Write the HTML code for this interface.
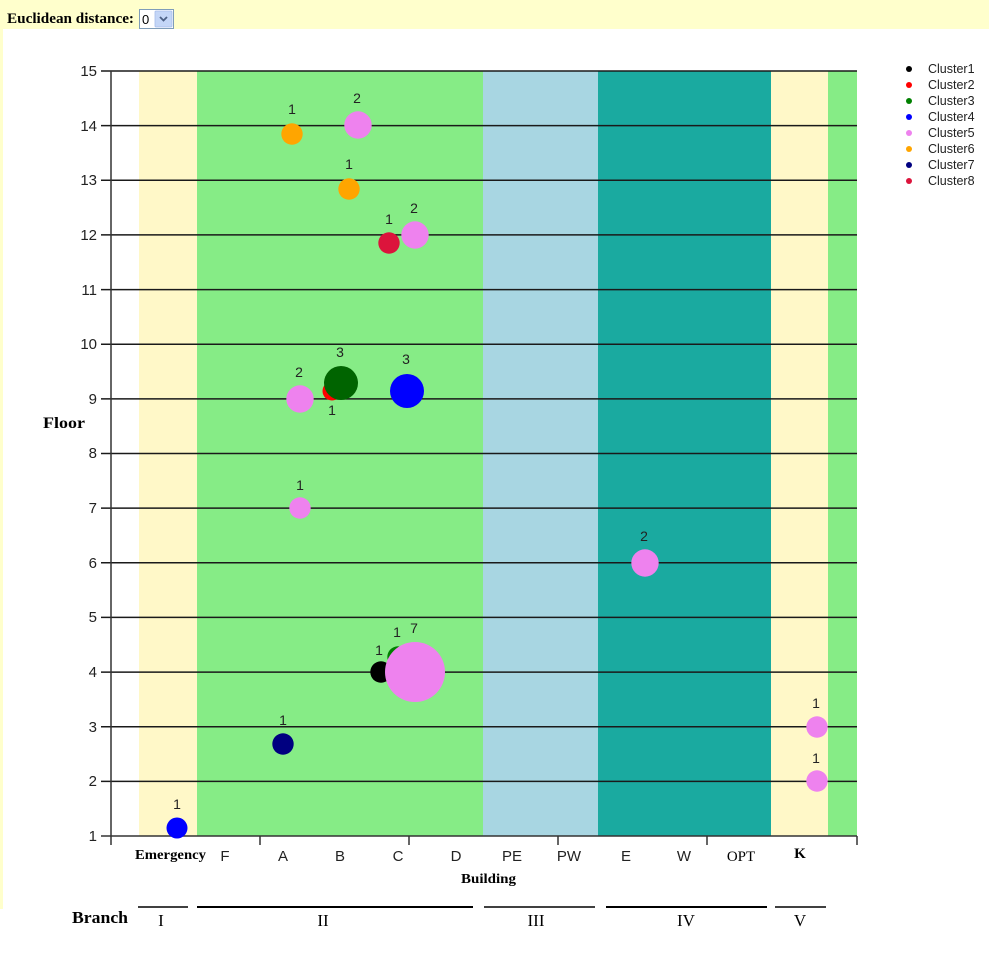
<!DOCTYPE html>
<html><head><meta charset="utf-8"><style>
html,body{margin:0;padding:0;background:#fff;}
svg{display:block;}
</style></head><body>
<svg width="989" height="954" viewBox="0 0 989 954" xmlns="http://www.w3.org/2000/svg">
<!-- page background -->
<rect x="0" y="0" width="989" height="954" fill="#fff"/>
<rect x="0" y="0" width="989" height="29" fill="#FFFFCC"/>
<rect x="0" y="29" width="3" height="880" fill="#FFFFCC"/>
<!-- header -->
<text x="7" y="23" font-family="Liberation Serif, serif" font-weight="bold" font-size="15" fill="#000" textLength="127" lengthAdjust="spacingAndGlyphs">Euclidean distance:</text>
<rect x="139.5" y="9.5" width="34" height="19" fill="#fff" stroke="#7F9DB9"/>
<text x="142" y="24" font-family="Liberation Sans, sans-serif" font-size="13" fill="#000">0</text>
<rect x="155" y="11" width="17" height="16" fill="#C4D6F7" stroke="#A6BDEB" stroke-width="0.8" rx="1"/>
<path d="M160 17 L163.5 20.5 L167 17" stroke="#4D6185" stroke-width="1.8" fill="none"/>

<!-- bands -->
<rect x="139" y="71" width="58" height="765" fill="#FFF8C8"/>
<rect x="197" y="71" width="286" height="765" fill="#86EC86"/>
<rect x="483" y="71" width="115" height="765" fill="#A8D6E2"/>
<rect x="598" y="71" width="173" height="765" fill="#1AAAA0"/>
<rect x="771" y="71" width="57" height="765" fill="#FFF8C8"/>
<rect x="828" y="71" width="29" height="765" fill="#86EC86"/>

<!-- gridlines -->
<g stroke="#1a1a1a" stroke-width="1.5">
<line x1="101" y1="71" x2="857" y2="71"/>
<line x1="101" y1="125.6" x2="857" y2="125.6"/>
<line x1="101" y1="180.3" x2="857" y2="180.3"/>
<line x1="101" y1="234.9" x2="857" y2="234.9"/>
<line x1="101" y1="289.6" x2="857" y2="289.6"/>
<line x1="101" y1="344.2" x2="857" y2="344.2"/>
<line x1="101" y1="398.9" x2="857" y2="398.9"/>
<line x1="101" y1="453.5" x2="857" y2="453.5"/>
<line x1="101" y1="508.1" x2="857" y2="508.1"/>
<line x1="101" y1="562.8" x2="857" y2="562.8"/>
<line x1="101" y1="617.4" x2="857" y2="617.4"/>
<line x1="101" y1="672.1" x2="857" y2="672.1"/>
<line x1="101" y1="726.7" x2="857" y2="726.7"/>
<line x1="101" y1="781.4" x2="857" y2="781.4"/>
</g>
<g stroke="#333" stroke-width="1.5">
<line x1="101" y1="836" x2="857" y2="836"/>
<line x1="111" y1="71" x2="111" y2="845"/>
<line x1="260" y1="836" x2="260" y2="845"/>
<line x1="409" y1="836" x2="409" y2="845"/>
<line x1="558" y1="836" x2="558" y2="845"/>
<line x1="707" y1="836" x2="707" y2="845"/>
<line x1="857" y1="836" x2="857" y2="845"/>
</g>

<!-- y tick labels -->
<g font-family="Liberation Sans, sans-serif" font-size="15" fill="#222" text-anchor="end">
<text x="97" y="76">15</text>
<text x="97" y="131">14</text>
<text x="97" y="185">13</text>
<text x="97" y="240">12</text>
<text x="97" y="295">11</text>
<text x="97" y="349">10</text>
<text x="97" y="404">9</text>
<text x="97" y="458">8</text>
<text x="97" y="513">7</text>
<text x="97" y="568">6</text>
<text x="97" y="622">5</text>
<text x="97" y="677">4</text>
<text x="97" y="732">3</text>
<text x="97" y="786">2</text>
<text x="97" y="841">1</text>
</g>

<!-- x labels -->
<text x="135" y="859" font-family="Liberation Serif, serif" font-weight="bold" font-size="14" fill="#000" textLength="71" lengthAdjust="spacingAndGlyphs">Emergency</text>
<g font-family="Liberation Sans, sans-serif" font-size="15" fill="#222" text-anchor="middle">
<text x="225" y="861">F</text>
<text x="283" y="861">A</text>
<text x="340" y="861">B</text>
<text x="398" y="861">C</text>
<text x="456" y="861">D</text>
<text x="512" y="861">PE</text>
<text x="569" y="861">PW</text>
<text x="626" y="861">E</text>
<text x="684" y="861">W</text>
</g>
<text x="741" y="861" font-family="Liberation Serif, serif" font-size="15" fill="#000" text-anchor="middle">OPT</text>
<text x="800" y="858" font-family="Liberation Serif, serif" font-weight="bold" font-size="15" fill="#000" text-anchor="middle">K</text>
<text x="461" y="883" font-family="Liberation Serif, serif" font-weight="bold" font-size="14" fill="#000" textLength="55" lengthAdjust="spacingAndGlyphs">Building</text>
<text x="43" y="428" font-family="Liberation Serif, serif" font-weight="bold" font-size="16" fill="#000" textLength="42" lengthAdjust="spacingAndGlyphs">Floor</text>

<!-- branch -->
<text x="72" y="923" font-family="Liberation Serif, serif" font-weight="bold" font-size="17" fill="#000" textLength="56" lengthAdjust="spacingAndGlyphs">Branch</text>
<g stroke="#000">
<line x1="138" y1="907" x2="188" y2="907" stroke-width="1.5"/>
<line x1="197" y1="907" x2="473" y2="907" stroke-width="2"/>
<line x1="484" y1="907" x2="595" y2="907" stroke-width="1.5"/>
<line x1="606" y1="907" x2="767" y2="907" stroke-width="2"/>
<line x1="775" y1="907" x2="826" y2="907" stroke-width="1.5"/>
</g>
<g font-family="Liberation Serif, serif" font-size="17" fill="#000" text-anchor="middle">
<text x="161" y="926">I</text>
<text x="323" y="926">II</text>
<text x="536" y="926">III</text>
<text x="686" y="926">IV</text>
<text x="800" y="926">V</text>
</g>

<!-- bubbles -->
<circle cx="177" cy="828" r="10.5" fill="#0000FF"/>
<circle cx="292" cy="134" r="10.7" fill="#FFA500"/>
<circle cx="358" cy="125" r="13.7" fill="#EE82EE"/>
<circle cx="349" cy="189" r="10.7" fill="#FFA500"/>
<circle cx="389" cy="243" r="10.7" fill="#DC143C"/>
<circle cx="415" cy="235" r="13.7" fill="#EE82EE"/>
<circle cx="300" cy="399" r="13.7" fill="#EE82EE"/>
<circle cx="332" cy="391" r="9.5" fill="#FF0000"/>
<circle cx="341" cy="383" r="17" fill="#006400"/>
<circle cx="407" cy="391" r="17" fill="#0000FF"/>
<circle cx="300" cy="508" r="10.7" fill="#EE82EE"/>
<circle cx="645" cy="563" r="13.7" fill="#EE82EE"/>
<circle cx="398" cy="657" r="10.7" fill="#008000"/>
<circle cx="381" cy="672" r="10.7" fill="#000000"/>
<circle cx="415" cy="672" r="30" fill="#EE82EE"/>
<circle cx="283" cy="744" r="10.7" fill="#000080"/>
<circle cx="817" cy="727" r="10.7" fill="#EE82EE"/>
<circle cx="817" cy="781" r="10.7" fill="#EE82EE"/>

<!-- bubble labels -->
<g font-family="Liberation Sans, sans-serif" font-size="14" fill="#222" text-anchor="middle">
<text x="177" y="809">1</text>
<text x="292" y="114">1</text>
<text x="357" y="103">2</text>
<text x="349" y="169">1</text>
<text x="389" y="224">1</text>
<text x="414" y="213">2</text>
<text x="299" y="377">2</text>
<text x="332" y="415">1</text>
<text x="340" y="357">3</text>
<text x="406" y="364">3</text>
<text x="300" y="490">1</text>
<text x="644" y="541">2</text>
<text x="379" y="655">1</text>
<text x="397" y="637">1</text>
<text x="414" y="633">7</text>
<text x="283" y="725">1</text>
<text x="816" y="708">1</text>
<text x="816" y="763">1</text>
</g>

<!-- legend -->
<g>
<circle cx="909" cy="69" r="3" fill="#000000"/>
<circle cx="909" cy="85" r="3" fill="#FF0000"/>
<circle cx="909" cy="101" r="3" fill="#008000"/>
<circle cx="909" cy="117" r="3" fill="#0000FF"/>
<circle cx="909" cy="133" r="3" fill="#EE82EE"/>
<circle cx="909" cy="149" r="3" fill="#FFA500"/>
<circle cx="909" cy="165" r="3" fill="#000080"/>
<circle cx="909" cy="181" r="3" fill="#DC143C"/>
</g>
<g font-family="Liberation Sans, sans-serif" font-size="12.5" fill="#222">
<text x="928" y="73">Cluster1</text>
<text x="928" y="89">Cluster2</text>
<text x="928" y="105">Cluster3</text>
<text x="928" y="121">Cluster4</text>
<text x="928" y="137">Cluster5</text>
<text x="928" y="153">Cluster6</text>
<text x="928" y="169">Cluster7</text>
<text x="928" y="185">Cluster8</text>
</g>
</svg>
</body></html>
